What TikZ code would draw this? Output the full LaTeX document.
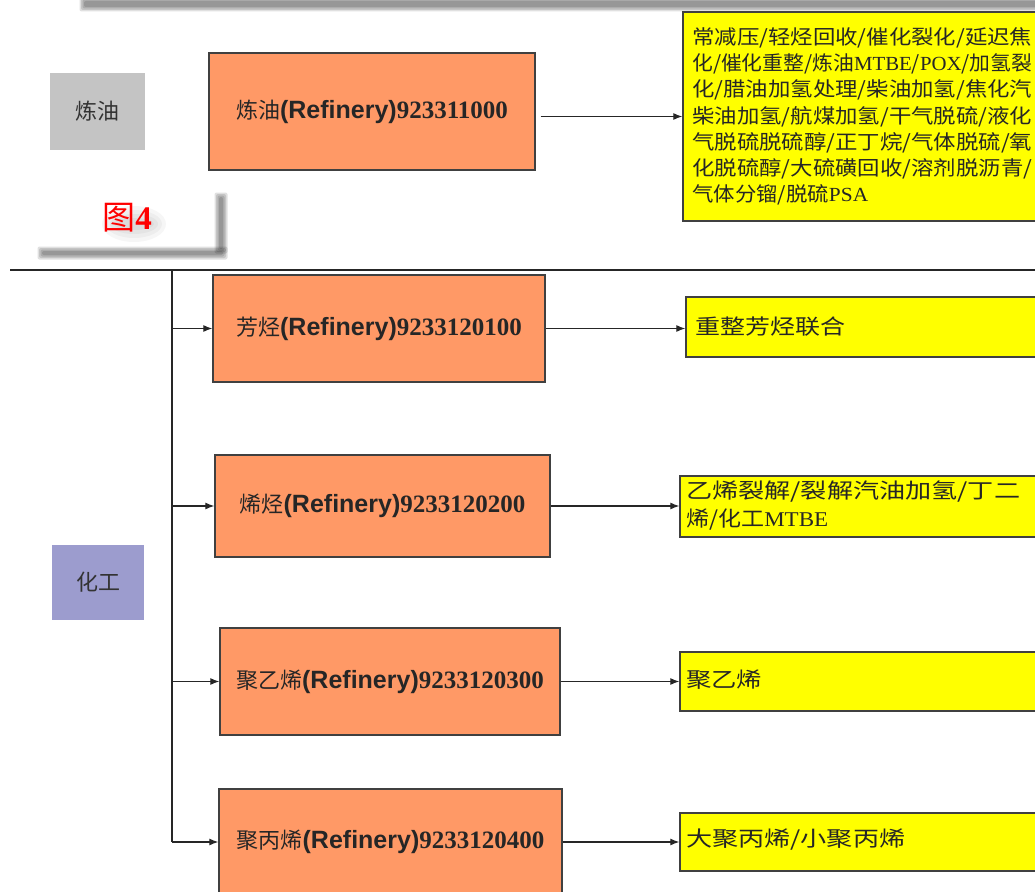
\documentclass[tikz,border=0pt]{standalone}
\usepackage{graphicx}
\usepackage{fontspec}
\setmainfont{Liberation Serif}
\setsansfont{Liberation Sans}
\newfontfamily\cjk{Noto Sans CJK SC}
\usetikzlibrary{arrows.meta,calc}
\definecolor{orng}{HTML}{FF9966}
\definecolor{ylw}{HTML}{FFFF00}
\definecolor{gbox}{HTML}{C4C4C4}
\definecolor{pbox}{HTML}{9C9CCE}
\newcommand\softrect[4]{\foreach \d in {0,1.5,3,4.5}{\fill[black,opacity=0.12,rounded corners=2pt] ({#1-\d},{#2-\d}) rectangle ({#3+\d},{#4+\d});}}
\newcommand\blabel[2]{{\cjk\fontsize{22}{26}\selectfont #1}{\sffamily\bfseries\fontsize{25}{28}\selectfont(Refinery)}{\bfseries\fontsize{25}{28}\selectfont #2}}
\newcommand\yl[2]{\resizebox{#1pt}{\height}{#2}}
\newcommand\lat[1]{{\rmfamily #1}}
\tikzset{
  obox/.style={draw=black!75, line width=1.3pt, fill=orng, inner sep=0pt, text=black!85},
  ybox/.style={draw=black!75, line width=1.3pt, fill=ylw, inner sep=0pt},
  catbox/.style={inner sep=0pt, text=black!80, font=\cjk\fontsize{22}{26}\selectfont},
  ytext/.style={inner sep=0pt, align=left, text=black!85, font=\cjk\fontsize{20}{26.3}\selectfont},
  ytextb/.style={inner sep=0pt, align=left, text=black!85, font=\cjk\fontsize{21}{28}\selectfont},
  conn/.style={line width=1.2pt, draw=black!85, -{Latex[length=9pt,width=7pt]}},
  plain/.style={line width=1.2pt, draw=black!85}
}
\begin{document}
\begin{tikzpicture}[x=1pt,y=-1pt]
\useasboundingbox (0,0) rectangle (1035,891);
\clip (0,0) rectangle (1035,891);
\fill[white] (0,0) rectangle (1035,891);
% top shadow band
\softrect{84}{1}{1045}{7}
% shadow of the figure-label box
\softrect{219}{197}{223}{249}
\softrect{42}{251}{223}{255}
\foreach \r in {6,10,14,18}{\fill[black,opacity=0.035] (134,224) ellipse ({\r+14} and {\r});}
\node[inner sep=0pt, text=red, font=\cjk\fontsize{33}{36}\selectfont] (fig) at (127,218) {图{\bfseries\rmfamily 4}};

% category boxes
\node[catbox, fill=gbox, minimum width=95pt, minimum height=77pt] (g1) at (97.5,111.5) {炼油};
\node[catbox, fill=pbox, minimum width=92pt, minimum height=75pt] (p1) at (98,582.5) {化工};

% separator line and trunk
\coordinate (hl) at (10,270);
\coordinate (hr) at (1035,270);
\draw[plain] (hl) -- (hr);
\coordinate (tt) at (172,270);
\coordinate (b2) at (172,328.5);
\coordinate (b3) at (172,506);
\coordinate (b4) at (172,681.5);
\coordinate (b5) at (172,842);
\draw[plain] (tt) -- (b5);

% orange boxes
\node[obox, minimum width=326pt, minimum height=117pt] (o1) at (372,111.5) {\blabel{炼油}{923311000}};
\node[obox, minimum width=332pt, minimum height=107pt] (o2) at (379,328.5) {\blabel{芳烃}{9233120100}};
\node[obox, minimum width=335pt, minimum height=102pt] (o3) at (382.5,506) {\blabel{烯烃}{9233120200}};
\node[obox, minimum width=340pt, minimum height=107pt] (o4) at (390,681.5) {\blabel{聚乙烯}{9233120300}};
\node[obox, minimum width=343pt, minimum height=106pt] (o5) at (390.5,842) {\blabel{聚丙烯}{9233120400}};

% yellow boxes
\node[ybox, minimum width=360pt, minimum height=209pt] (y1) at (863,116.5) {};
\node[ybox, minimum width=357pt, minimum height=60pt] (y2) at (864.5,327) {};
\node[ybox, minimum width=363pt, minimum height=61pt] (y3) at (861.5,506.5) {};
\node[ybox, minimum width=363pt, minimum height=59pt] (y4) at (861.5,681.5) {};
\node[ybox, minimum width=363pt, minimum height=58pt] (y5) at (861.5,842) {};

\node[ytext, anchor=north west] (t1) at (692,27) {\yl{340}{常减压/轻烃回收/催化裂化/延迟焦}\\\yl{340}{化/催化重整/炼油\lat{MTBE}/\lat{POX}/加氢裂}\\\yl{340}{化/腊油加氢处理/柴油加氢/焦化汽}\\\yl{340}{柴油加氢/航煤加氢/干气脱硫/液化}\\\yl{340}{气脱硫脱硫醇/正丁烷/气体脱硫/氧}\\\yl{340}{化脱硫醇/大硫磺回收/溶剂脱沥青/}\\\yl{176}{气体分镏/脱硫\lat{PSA}}};
\node[ytextb, anchor=west] (t2) at (695,327) {\yl{150}{重整芳烃联合}};
\node[ytextb, anchor=north west] (t3) at (686,481) {\yl{334}{乙烯裂解/裂解汽油加氢/丁二}\\\yl{142}{烯/化工\lat{MTBE}}};
\node[ytextb, anchor=west] (t4) at (686,680) {\yl{76}{聚乙烯}};
\node[ytextb, anchor=west] (t5) at (686,840) {\yl{219}{大聚丙烯/小聚丙烯}};

% connectors
\draw[conn] (b2) -- (o2);
\draw[conn] (b3) -- (o3);
\draw[conn] (b4) -- (o4);
\draw[conn] (b5) -- (o5);
\draw[conn] ([xshift=5pt]o1.east |- y1.west) -- (y1.west);
\draw[conn] (o2.east) -- (o2.east -| y2.west);
\draw[conn] (o3.east) -- (o3.east -| y3.west);
\draw[conn] (o4.east) -- (o4.east -| y4.west);
\draw[conn] (o5.east) -- (o5.east -| y5.west);
\end{tikzpicture}
\end{document}
